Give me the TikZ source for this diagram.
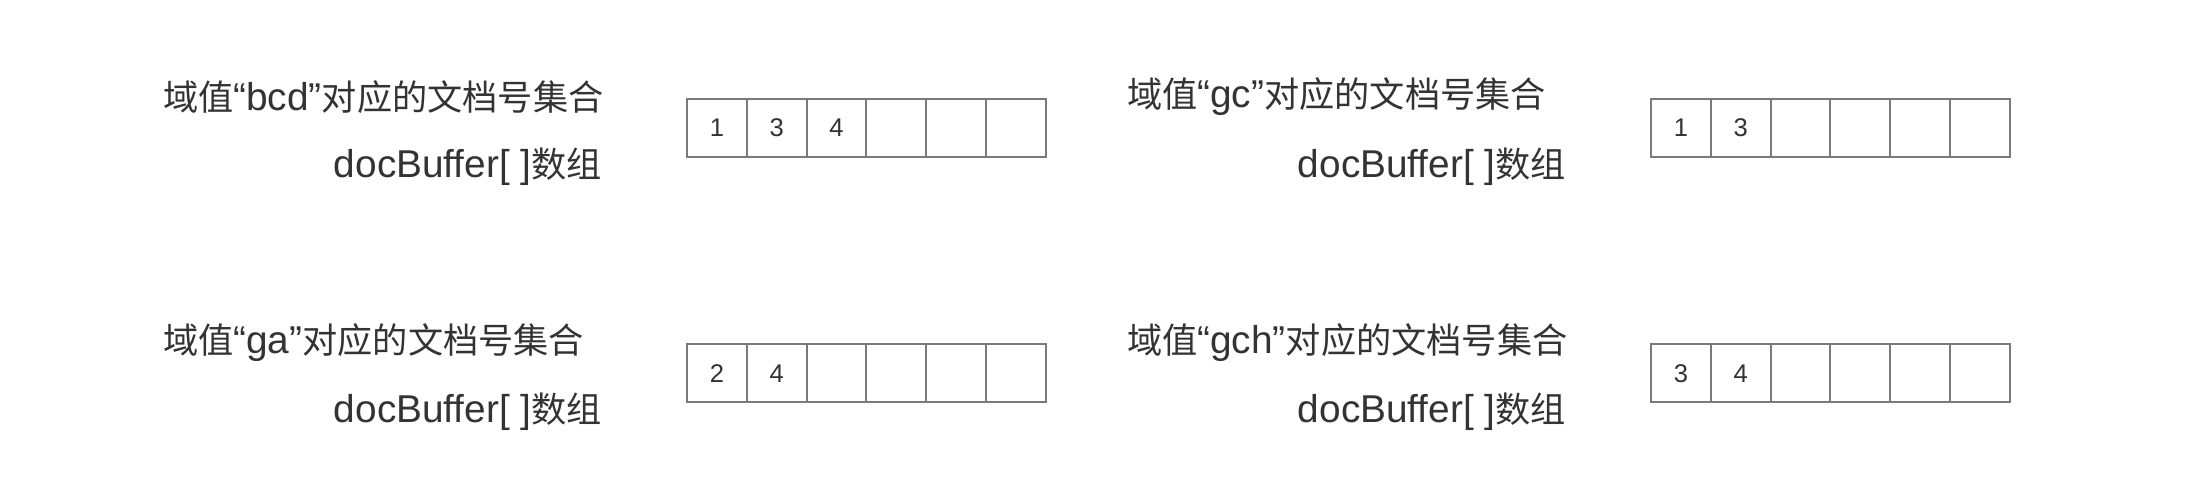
\documentclass[tikz,border=0pt]{standalone}
\usepackage{fontspec}
\setmainfont{Liberation Sans}
\newfontfamily\cjk{Noto Sans CJK SC}
\definecolor{txt}{HTML}{333333}
\definecolor{boxc}{HTML}{7A7A7A}
\newcommand{\cj}[1]{{\cjk\fontsize{17.6}{20}\selectfont #1}}
\begin{document}
\begin{tikzpicture}[x=0.5pt,y=-0.5pt]
\tikzset{
  lbl/.style={inner sep=0pt, outer sep=0pt, text=txt, font=\fontsize{19.4}{22}\selectfont},
  cell/.style={draw=boxc, line width=1pt, minimum width=29.9pt, minimum height=29pt,
               inner sep=0pt, outer sep=0pt, text=txt, font=\fontsize{12.8}{14}\selectfont},
}
\fill[white] (0,0) rectangle (2208,480);
\useasboundingbox (0,0) rectangle (2208,480);

% top-left
\node[lbl, anchor=west] (tlA) at (163,97) {\cj{域值}“bcd”\cj{对应的文档号集合}};
\node[lbl, anchor=east] (tlB) at (602,167) {docBuffer[ ]\cj{数组}};
\foreach \i/\v in {1/1,2/3,3/4,4/{},5/{},6/{}}
  \node[cell] (tl\i) at ({716.9+(\i-1)*59.8},128) {\v};

% top-right
\node[lbl, anchor=west] (trA) at (1127,97) {\cj{域值}“gc”\cj{对应的文档号集合}};
\node[lbl, anchor=east] (trB) at (1566,167) {docBuffer[ ]\cj{数组}};
\foreach \i/\v in {1/1,2/3,3/{},4/{},5/{},6/{}}
  \node[cell] (tr\i) at ({1680.9+(\i-1)*59.8},128) {\v};

% bottom-left
\node[lbl, anchor=west] (blA) at (163,343) {\cj{域值}“ga”\cj{对应的文档号集合}};
\node[lbl, anchor=east] (blB) at (602,412) {docBuffer[ ]\cj{数组}};
\foreach \i/\v in {1/2,2/4,3/{},4/{},5/{},6/{}}
  \node[cell] (bl\i) at ({716.9+(\i-1)*59.8},373.5) {\v};

% bottom-right
\node[lbl, anchor=west] (brA) at (1127,343) {\cj{域值}“gch”\cj{对应的文档号集合}};
\node[lbl, anchor=east] (brB) at (1566,412) {docBuffer[ ]\cj{数组}};
\foreach \i/\v in {1/3,2/4,3/{},4/{},5/{},6/{}}
  \node[cell] (br\i) at ({1680.9+(\i-1)*59.8},373.5) {\v};
\end{tikzpicture}
\end{document}
